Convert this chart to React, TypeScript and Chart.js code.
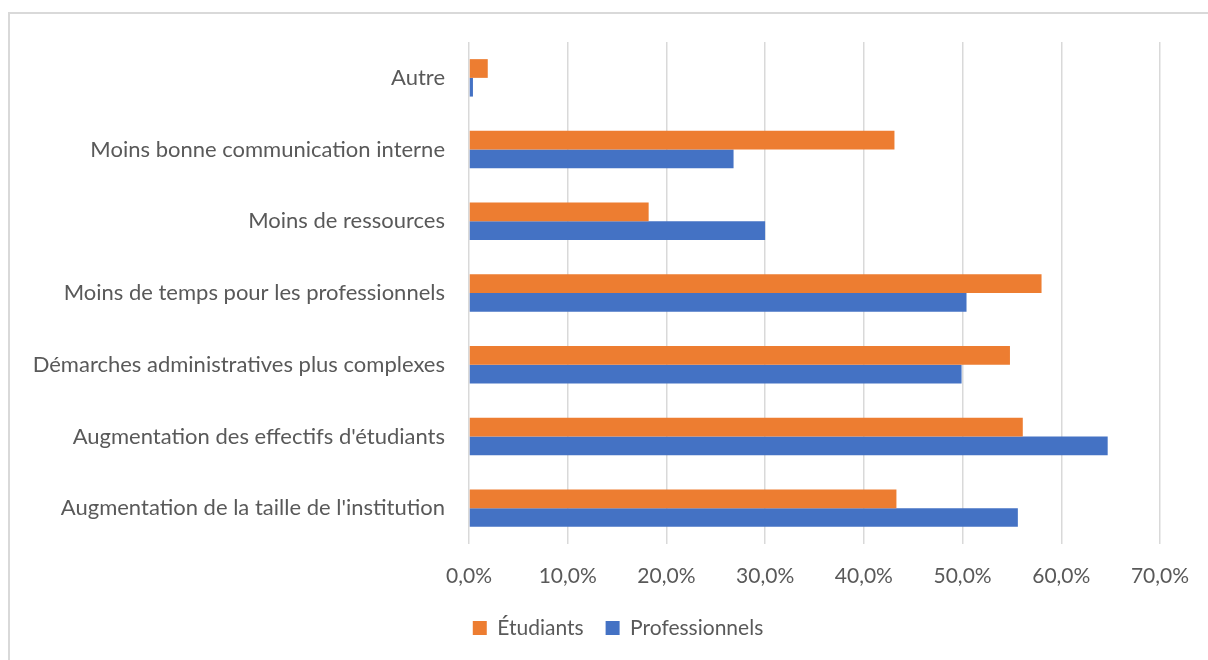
import React, { useEffect, useRef } from "react";
import { Chart, registerables } from "chart.js";

Chart.register(...registerables);

const categories = [
  "Autre",
  "Moins bonne communication interne",
  "Moins de ressources",
  "Moins de temps pour les professionnels",
  "Démarches administratives plus complexes",
  "Augmentation des effectifs d'étudiants",
  "Augmentation de la taille de l'institution",
];
const etudiants = [1.9, 43.1, 18.2, 58.0, 54.8, 56.1, 43.3];
const professionnels = [0.4, 26.8, 30.0, 50.4, 49.9, 64.7, 55.6];
const xMin = 0;
const xMax = 70;
const xStep = 10;

const FONT = "Lato";
const TEXT = "#595959";

// Excel centres the legend on the (wider, cropped) chart frame.
const legendShift = {
  id: "legendShift",
  afterLayout(chart: any) {
    if (chart.legend) chart.legend.left = 66;
  },
};

export default function App() {
  const ref = useRef<HTMLCanvasElement | null>(null);
  useEffect(() => {
    if (!ref.current) return;
    const chart = new Chart(ref.current, {
      type: "bar",
      data: {
        labels: categories,
        datasets: [
          {
            label: "Étudiants",
            data: etudiants,
            backgroundColor: "#ED7D31",
            categoryPercentage: 0.522,
            barPercentage: 1,
          },
          {
            label: "Professionnels",
            data: professionnels,
            backgroundColor: "#4472C4",
            categoryPercentage: 0.522,
            barPercentage: 1,
          },
        ],
      },
      plugins: [legendShift],
      options: {
        indexAxis: "y",
        responsive: false,
        animation: false,
        layout: { padding: { left: 0, right: 40, top: 28, bottom: 1.5 } },
        plugins: {
          tooltip: { enabled: false },
          legend: {
            position: "bottom",
            labels: {
              boxWidth: 14,
              boxHeight: 14,
              padding: 22,
              color: TEXT,
              font: { family: FONT, size: 21 },
            },
          },
        },
        scales: {
          x: {
            min: xMin,
            max: xMax,
            border: { display: false },
            grid: { color: "#d9d9d9", lineWidth: 1.5, drawTicks: false },
            ticks: {
              stepSize: xStep,
              padding: 20,
              color: TEXT,
              font: { family: FONT, size: 21 },
              callback: (v: any) => Number(v).toFixed(1).replace(".", ",") + "%",
            },
            afterFit: (s: any) => {
              s.height = 51.5;
              s.paddingLeft = 0;
              s.paddingRight = 0;
            },
          },
          y: {
            border: { display: false },
            grid: { display: false, drawTicks: false },
            ticks: {
              padding: 24,
              color: TEXT,
              font: { family: FONT, size: 22 },
            },
            afterFit: (s: any) => {
              s.width = 459;
              s.paddingTop = 0;
              s.paddingBottom = 0;
            },
          },
        },
      },
    });
    return () => chart.destroy();
  }, []);
  return (
    <div
      style={{
        position: "fixed",
        left: 8,
        top: 12,
        width: 1240,
        height: 700,
        borderTop: "2px solid #d9d9d9",
        borderLeft: "2px solid #d9d9d9",
      }}
    >
      <canvas ref={ref} width={1190} height={636} style={{ display: "block" }} />
    </div>
  );
}
